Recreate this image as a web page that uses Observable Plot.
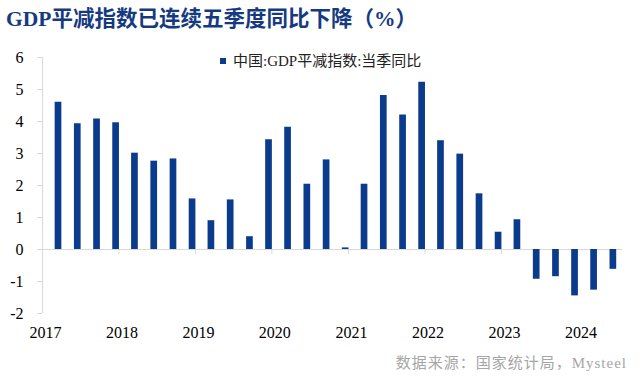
<!DOCTYPE html>
<html>
<head>
<meta charset="utf-8">
<script src="https://cdn.jsdelivr.net/npm/d3@7"></script>
<script src="https://cdn.jsdelivr.net/npm/@observablehq/plot@0.6"></script>
<style>
  html, body { margin: 0; padding: 0; background: #fff; }
  #wrap { position: relative; width: 640px; height: 384px; overflow: hidden; }
  #wrap svg { position: absolute; left: 0; top: 0; }
  .title { position: absolute; left: 6px; top: 7px; font-family: "Liberation Serif", "Noto Sans CJK SC", serif; font-weight: bold; font-size: 21.5px; line-height: 24px; color: #163a80; white-space: nowrap; }
  .legend { position: absolute; left: 220px; top: 52px; font-family: "Liberation Serif", "Noto Sans CJK SC", serif; font-size: 15px; line-height: 18px; color: #222; white-space: nowrap; }
  .legend .sw { display: inline-block; width: 6px; height: 6px; background: #0b3b8c; margin-right: 7px; vertical-align: 2px; }
  .source { position: absolute; right: 13px; top: 353px; font-family: "Liberation Serif", "Noto Sans CJK SC", serif; font-size: 15px; line-height: 20px; color: #a6a6a6; white-space: nowrap; letter-spacing: 1px; }
</style>
</head>
<body>
<div id="wrap">
  <div class="title">GDP平减指数已连续五季度同比下降（%）</div>
  <div class="legend"><span class="sw"></span>中国:GDP平减指数:当季同比</div>
  <div class="source">数据来源：国家统计局，Mysteel</div>
</div>
<script>
const quarters = [
  "2017Q1","2017Q2","2017Q3","2017Q4",
  "2018Q1","2018Q2","2018Q3","2018Q4",
  "2019Q1","2019Q2","2019Q3","2019Q4",
  "2020Q1","2020Q2","2020Q3","2020Q4",
  "2021Q1","2021Q2","2021Q3","2021Q4",
  "2022Q1","2022Q2","2022Q3","2022Q4",
  "2023Q1","2023Q2","2023Q3","2023Q4",
  "2024Q1","2024Q2"
];
const values = [
  4.60, 3.93, 4.08, 3.96,
  3.01, 2.76, 2.83, 1.58,
  0.90, 1.55, 0.40, 3.43,
  3.82, 2.04, 2.80, 0.05,
  2.04, 4.81, 4.20, 5.23,
  3.40, 2.98, 1.74, 0.54,
  0.93, -0.93, -0.85, -1.45,
  -1.27, -0.62
];
const yearTicks = [2017, 2018, 2019, 2020, 2021, 2022, 2023, 2024];
const yTicks = [-2, -1, 0, 1, 2, 3, 4, 5, 6];

const barColor = "#0b3b8c";
const axisColor = "#d9d9d9";

const data = quarters.map((q, i) => {
  const y = +q.slice(0, 4), n = +q.slice(5);
  return { date: new Date(Date.UTC(y, n * 3 - 1, 16)), value: values[i] };
});
const yearDates = yearTicks.map(y => new Date(Date.UTC(y, 0, 1)));
const xStart = new Date(Date.UTC(2017, 0, 1));
const xEnd = new Date(Date.UTC(2024, 7, 1));

const chart = Plot.plot({
  width: 640,
  height: 384,
  marginLeft: 42,
  marginRight: 18,
  marginTop: 57,
  marginBottom: 71,
  style: { fontFamily: "'Liberation Serif', serif", fontSize: "16px", color: "#000", background: "transparent", overflow: "visible" },
  x: { type: "utc", domain: [xStart, xEnd] },
  y: { domain: [-2, 6] },
  marks: [
    Plot.ruleX([xStart], { stroke: axisColor }),
    Plot.ruleY([0], { stroke: axisColor }),
    Plot.ruleX(yearDates, { y1: 0, y2: -0.16, stroke: axisColor }),
    Plot.axisY({ ticks: yTicks, tickSize: 5, tickPadding: 14, tickFormat: d => String(d), stroke: axisColor, fill: "#000", fontSize: 16, label: null }),
    Plot.axisX({ ticks: yearDates, tickSize: 0, tickPadding: 13, tickFormat: d => String(d.getUTCFullYear()), fill: "#000", fontSize: 16, dx: 3, label: null }),
    Plot.ruleX(data, { x: "date", y1: 0, y2: "value", stroke: barColor, strokeWidth: 6.7 })
  ]
});
document.getElementById("wrap").prepend(chart);
</script>
</body>
</html>
